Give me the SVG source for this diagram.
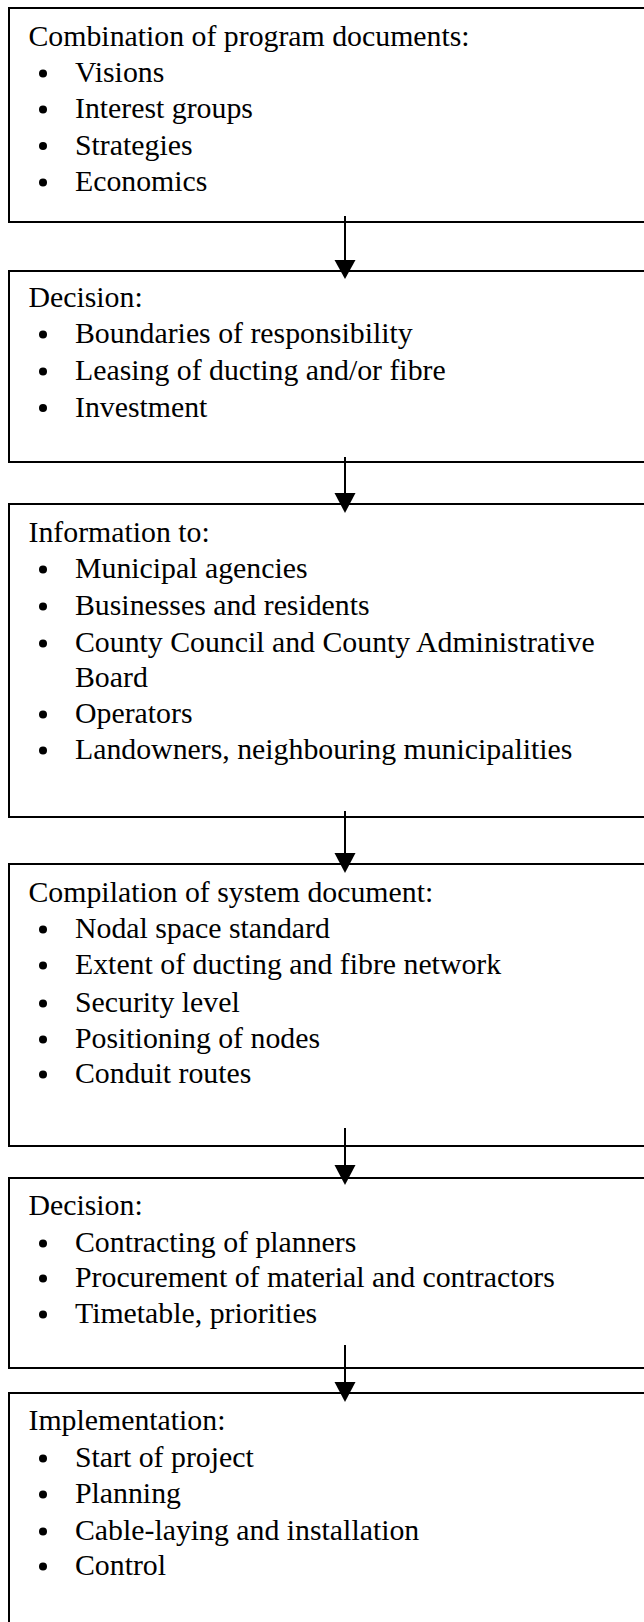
<svg xmlns="http://www.w3.org/2000/svg" width="644" height="1622" viewBox="0 0 644 1622">
  <style>
    .box { fill: #ffffff; stroke: #000000; stroke-width: 2; }
    .txt { font-family: "Liberation Serif", "Times New Roman", serif; font-size: 29.8px; fill: #000000; }
    .dot { fill: #000000; }
    .link { stroke: #000000; stroke-width: 2; fill: none; }
    .head { fill: #000000; }
  </style>
  <rect x="0" y="0" width="644" height="1622" fill="#ffffff"/>

  <g id="node-programme">
    <rect class="box" x="9" y="8" width="700" height="214"/>
    <text class="txt" x="28.5" y="45.5">Combination of program documents:</text>
    <circle class="dot" cx="43" cy="73.5" r="4"/>
    <text class="txt" x="75" y="82">Visions</text>
    <circle class="dot" cx="43" cy="109.5" r="4"/>
    <text class="txt" x="75" y="118">Interest groups</text>
    <circle class="dot" cx="43" cy="146" r="4"/>
    <text class="txt" x="75" y="154.5">Strategies</text>
    <circle class="dot" cx="43" cy="182.5" r="4"/>
    <text class="txt" x="75" y="191">Economics</text>
  </g>

  <g id="node-decision-1">
    <rect class="box" x="9" y="271" width="700" height="191"/>
    <text class="txt" x="28.5" y="307">Decision:</text>
    <circle class="dot" cx="43" cy="334.5" r="4"/>
    <text class="txt" x="75" y="343">Boundaries of responsibility</text>
    <circle class="dot" cx="43" cy="371.5" r="4"/>
    <text class="txt" x="75" y="380">Leasing of ducting and/or fibre</text>
    <circle class="dot" cx="43" cy="408" r="4"/>
    <text class="txt" x="75" y="416.5">Investment</text>
  </g>

  <g id="node-information">
    <rect class="box" x="9" y="504" width="700" height="313"/>
    <text class="txt" x="28.5" y="542">Information to:</text>
    <circle class="dot" cx="43" cy="569.5" r="4"/>
    <text class="txt" x="75" y="578">Municipal agencies</text>
    <circle class="dot" cx="43" cy="606.5" r="4"/>
    <text class="txt" x="75" y="615">Businesses and residents</text>
    <circle class="dot" cx="43" cy="643.5" r="4"/>
    <text class="txt" x="75" y="652">County Council and County Administrative</text>
    <text class="txt" x="75" y="687">Board</text>
    <circle class="dot" cx="43" cy="714.5" r="4"/>
    <text class="txt" x="75" y="723">Operators</text>
    <circle class="dot" cx="43" cy="750.5" r="4"/>
    <text class="txt" x="75" y="759">Landowners, neighbouring municipalities</text>
  </g>

  <g id="node-system-document">
    <rect class="box" x="9" y="864" width="700" height="282"/>
    <text class="txt" x="28.5" y="902">Compilation of system document:</text>
    <circle class="dot" cx="43" cy="929.5" r="4"/>
    <text class="txt" x="75" y="938">Nodal space standard</text>
    <circle class="dot" cx="43" cy="965.5" r="4"/>
    <text class="txt" x="75" y="974">Extent of ducting and fibre network</text>
    <circle class="dot" cx="43" cy="1003.5" r="4"/>
    <text class="txt" x="75" y="1012">Security level</text>
    <circle class="dot" cx="43" cy="1039.5" r="4"/>
    <text class="txt" x="75" y="1048">Positioning of nodes</text>
    <circle class="dot" cx="43" cy="1074.5" r="4"/>
    <text class="txt" x="75" y="1083">Conduit routes</text>
  </g>

  <g id="node-decision-2">
    <rect class="box" x="9" y="1178" width="700" height="190"/>
    <text class="txt" x="28.5" y="1215">Decision:</text>
    <circle class="dot" cx="43" cy="1243.5" r="4"/>
    <text class="txt" x="75" y="1252">Contracting of planners</text>
    <circle class="dot" cx="43" cy="1278.5" r="4"/>
    <text class="txt" x="75" y="1287">Procurement of material and contractors</text>
    <circle class="dot" cx="43" cy="1314.5" r="4"/>
    <text class="txt" x="75" y="1323">Timetable, priorities</text>
  </g>

  <g id="node-implementation">
    <rect class="box" x="9" y="1393" width="700" height="300"/>
    <text class="txt" x="28.5" y="1430">Implementation:</text>
    <circle class="dot" cx="43" cy="1458.5" r="4"/>
    <text class="txt" x="75" y="1467">Start of project</text>
    <circle class="dot" cx="43" cy="1494.5" r="4"/>
    <text class="txt" x="75" y="1503">Planning</text>
    <circle class="dot" cx="43" cy="1531.5" r="4"/>
    <text class="txt" x="75" y="1540">Cable-laying and installation</text>
    <circle class="dot" cx="43" cy="1566.5" r="4"/>
    <text class="txt" x="75" y="1575">Control</text>
  </g>

  <!-- downward flow arrows between the stages -->
  <g id="connectors">
    <line class="link" x1="345" y1="216" x2="345" y2="262"/>
    <polygon class="head" points="334.5,260 355.5,260 345,279"/>
    <line class="link" x1="345" y1="457" x2="345" y2="495"/>
    <polygon class="head" points="334.5,493 355.5,493 345,513"/>
    <line class="link" x1="345" y1="811" x2="345" y2="855"/>
    <polygon class="head" points="334.5,853 355.5,853 345,873"/>
    <line class="link" x1="345" y1="1128" x2="345" y2="1167"/>
    <polygon class="head" points="334.5,1165 355.5,1165 345,1185"/>
    <line class="link" x1="345" y1="1345" x2="345" y2="1384"/>
    <polygon class="head" points="334.5,1382 355.5,1382 345,1402"/>
  </g>
</svg>
